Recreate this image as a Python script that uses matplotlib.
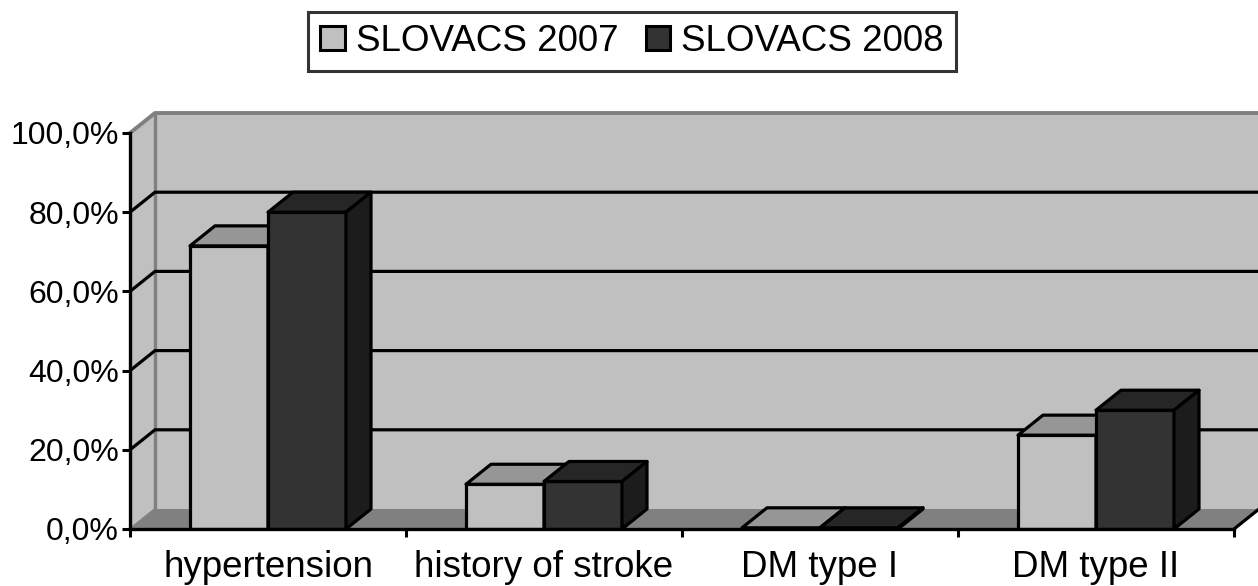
import matplotlib
matplotlib.use("Agg")
import matplotlib.pyplot as plt
from matplotlib.patches import Polygon, Patch

categories = ["hypertension", "history of stroke", "DM type I", "DM type II"]
series_names = ["SLOVACS 2007", "SLOVACS 2008"]
s2007 = [71.5, 11.3, 0.3, 23.7]
s2008 = [80.0, 12.0, 0.3, 30.0]
yticks = [0, 20, 40, 60, 80, 100]
ytick_labels = ["0,0%", "20,0%", "40,0%", "60,0%", "80,0%", "100,0%"]

plt.rcParams['font.family'] = ['Liberation Sans', 'DejaVu Sans']

W, H = 1258, 586
fig = plt.figure(figsize=(W / 100, H / 100), dpi=100)
ax_left, ax_right, ax_bottom, ax_top = 130, 1258, 529, 113
ax = fig.add_axes([ax_left / W, (H - ax_bottom) / H,
                   (ax_right - ax_left) / W, (ax_bottom - ax_top) / H])
px_per_cat = 276.0
px_per_pct = 3.96
xmax = (ax_right - ax_left) / px_per_cat
ymax = (ax_bottom - ax_top) / px_per_pct
ax.set_xlim(0, xmax)
ax.set_ylim(0, ymax)

DX = 25 / px_per_cat
DY = 20 / px_per_pct
ncat = len(categories)
BW = 78 / px_per_cat

wall = "#c0c0c0"
floor_c = "#808080"
edge_gray = "#808080"
lw_black = 2.3

# back wall
ax.add_patch(Polygon([(DX, DY), (xmax + 1, DY), (xmax + 1, 100 + DY), (DX, 100 + DY)],
                     closed=True, facecolor=wall, edgecolor='none', zorder=0))
# side wall
ax.add_patch(Polygon([(0, 0), (DX, DY), (DX, 100 + DY), (0, 100)],
                     closed=True, facecolor=wall, edgecolor='none', zorder=0))
# floor
ax.add_patch(Polygon([(0, 0), (ncat, 0), (ncat + DX, DY), (DX, DY)],
                     closed=True, facecolor=floor_c, edgecolor='none', zorder=1))
# wall edges
ax.plot([DX, DX], [DY, 100 + DY], color=edge_gray, lw=2.4, zorder=1, solid_capstyle='butt')
ax.plot([0, DX, xmax + 1], [100, 100 + DY, 100 + DY], color=edge_gray, lw=2.8, zorder=1, clip_on=False)
ax.plot([0, DX], [0, DY], color=edge_gray, lw=1.5, zorder=2)
ax.plot([ncat, ncat + DX], [0, DY], color='black', lw=lw_black, zorder=2, clip_on=False)
# gridlines
for v in yticks[1:-1]:
    ax.plot([0, DX, xmax + 1], [v, v + DY, v + DY], color='black', lw=lw_black, zorder=1,
            solid_joinstyle='miter')

front_cols = ["#c0c0c0", "#333333"]
top_cols = ["#969696", "#262626"]
side_cols = ["#a0a0a0", "#1c1c1c"]

z = 3
for i in range(ncat):
    for k, vals in enumerate([s2007, s2008]):
        v = vals[i]
        x0 = i + 0.5 - BW + k * BW
        x1 = x0 + BW
        ax.bar([x0], [v], width=BW, align='edge', color=front_cols[k], edgecolor='black',
               linewidth=lw_black, zorder=z)
        ax.add_patch(Polygon([(x0, v), (x1, v), (x1 + DX, v + DY), (x0 + DX, v + DY)],
                             closed=True, facecolor=top_cols[k], edgecolor='black',
                             linewidth=lw_black, zorder=z, joinstyle='round'))
        ax.add_patch(Polygon([(x1, 0), (x1 + DX, DY), (x1 + DX, v + DY), (x1, v)],
                             closed=True, facecolor=side_cols[k], edgecolor='black',
                             linewidth=lw_black, zorder=z, joinstyle='round'))
        z += 1

# axes / spines
for s in ['top', 'right']:
    ax.spines[s].set_visible(False)
ax.spines['left'].set_bounds(0, 100)
ax.spines['bottom'].set_bounds(0, ncat)
for s in ['left', 'bottom']:
    ax.spines[s].set_linewidth(2.4)
    ax.spines[s].set_color('black')
    ax.spines[s].set_zorder(50)

ax.set_yticks(yticks)
ax.set_yticklabels(ytick_labels)
ax.tick_params(axis='y', length=6, width=2.2, pad=2, labelsize=23, direction='out')
ax.set_xticks(range(ncat + 1))
ax.set_xticklabels([])
ax.tick_params(axis='x', which='major', length=6, width=2.2, direction='out')
ax.set_xticks([i + 0.5 for i in range(ncat)], minor=True)
ax.set_xticklabels(categories, minor=True)
ax.tick_params(axis='x', which='minor', length=0, pad=15, labelsize=26.5)

handles = [Patch(facecolor=front_cols[k], edgecolor='black', linewidth=2.2) for k in range(2)]
leg = fig.legend(handles, series_names, loc='center', ncol=2,
                 bbox_to_anchor=(632 / W, 1 - 41.5 / H), fontsize=26.5,
                 frameon=True, fancybox=False, edgecolor='black',
                 handlelength=0.66, handleheight=0.66, handletextpad=0.3,
                 columnspacing=0.75, borderpad=0.33, borderaxespad=0)
leg.get_frame().set_linewidth(2.2)

fig.savefig("out.png", dpi=100)
